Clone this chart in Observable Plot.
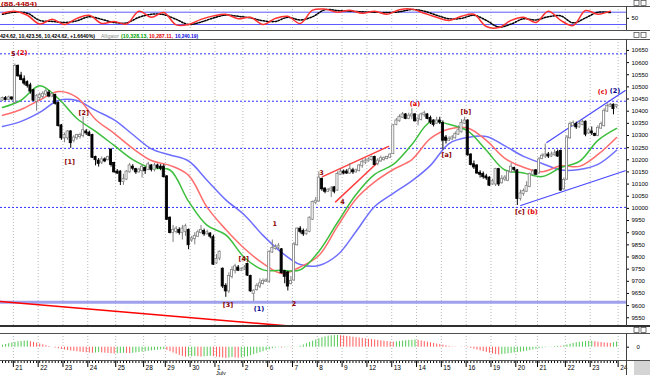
<!DOCTYPE html>
<html><head><meta charset="utf-8">
<script src="https://cdn.jsdelivr.net/npm/d3@7"></script>
<script src="https://cdn.jsdelivr.net/npm/@observablehq/plot@0.6"></script>
<style>
html,body{margin:0;padding:0;background:#fff;}
#c{position:relative;width:650px;height:375px;overflow:hidden;background:#fff;}
#c svg{position:absolute;left:0;}
</style></head><body><div id="c"></div>
<script>
// ---------- hourly candles (DJIA, 18 Jun - 23 Jul 2010) ----------
const opens = [
10445,10452,10448,10455,10435,10585,10545,10530,10518,10505,
10485,10440,10455,10460,10470,10475,10462,10465,10432,10340,
10290,10290,10315,10280,10290,10295,10300,10315,10310,10300,
10210,10195,10190,10200,10200,10240,10185,10150,10150,10110,
10120,10150,10170,10160,10150,10155,10165,10160,10175,10160,
10175,10170,10170,10130,9960,9900,9905,9910,9900,9905,
9910,9870,9875,9885,9900,9905,9895,9895,9880,9775,
9795,9750,9680,9660,9720,9745,9755,9745,9750,9770,
9720,9650,9665,9680,9690,9700,9700,9820,9835,9840,
9830,9740,9735,9690,9705,9850,9915,9905,9895,9905,
9955,10025,10030,10120,10080,10070,10075,10085,10075,10140,
10150,10150,10145,10155,10150,10155,10175,10190,10195,10200,
10210,10185,10195,10200,10205,10210,10225,10345,10360,10375,
10385,10370,10380,10385,10360,10365,10385,10385,10370,10360,
10350,10360,10350,10290,10280,10285,10290,10305,10315,10350,
10360,10220,10180,10175,10145,10140,10130,10125,10100,10100,
10160,10105,10120,10115,10150,10165,10155,10040,10060,10070,
10090,10140,10155,10145,10205,10215,10220,10215,10220,10230,
10235,10080,10120,10290,10340,10345,10335,10345,10355,10310,
10315,10305,10300,10330,10340,10400,10420,10425,10420];
const highs = [
10458,10460,10462,10458,10594,10590,10560,10545,10525,10515,
10490,10468,10475,10480,10490,10485,10475,10470,10438,10345,
10310,10320,10320,10300,10305,10310,10378,10325,10318,10305,
10215,10205,10212,10208,10215,10245,10190,10160,10155,10140,
10155,10185,10180,10165,10165,10180,10170,10190,10180,10185,
10182,10180,10180,10135,9965,9930,9925,9920,9930,9935,
9915,9885,9900,9910,9930,9915,9910,9900,9890,9810,
9825,9755,9690,9735,9760,9770,9765,9755,9765,9775,
9725,9665,9690,9710,9710,9710,9825,9870,9850,9855,
9835,9745,9740,9720,9860,9920,9925,9915,9915,9965,
10030,10045,10150,10125,10085,10082,10090,10090,10150,10160,
10158,10160,10185,10165,10162,10180,10200,10205,10208,10215,
10215,10205,10215,10212,10215,10225,10345,10370,10385,10395,
10390,10392,10410,10390,10385,10392,10400,10390,10380,10365,
10375,10375,10360,10300,10295,10300,10315,10340,10365,10375,
10365,10225,10195,10180,10155,10150,10140,10130,10120,10165,
10165,10135,10135,10155,10185,10170,10160,10075,10080,10110,
10145,10160,10160,10210,10225,10265,10230,10232,10240,10240,
10240,10125,10300,10355,10360,10355,10360,10365,10360,10330,
10335,10310,10340,10355,10410,10430,10432,10430,10426];
const lows = [
10440,10442,10444,10443,10430,10540,10525,10505,10495,10470,
10440,10400,10440,10450,10460,10455,10455,10425,10335,10280,
10270,10280,10247,10270,10280,10285,10290,10300,10295,10205,
10175,10170,10180,10188,10195,10170,10145,10140,10094,10095,
10115,10145,10155,10140,10145,10125,10140,10155,10150,10150,
10160,10155,10125,9950,9895,9860,9895,9890,9870,9885,
9830,9860,9850,9880,9895,9885,9890,9875,9765,9770,
9785,9670,9634,9650,9710,9730,9740,9740,9745,9720,
9655,9617,9660,9670,9685,9695,9692,9815,9828,9830,
9730,9690,9660,9685,9700,9845,9895,9885,9890,9900,
9950,10015,10025,10070,10060,10065,10045,10060,10070,10135,
10138,10140,10140,10140,10145,10150,10165,10180,10190,10195,
10175,10175,10190,10195,10200,10205,10222,10340,10355,10370,
10365,10365,10365,10355,10340,10360,10375,10365,10345,10335,
10345,10345,10240,10265,10275,10280,10285,10300,10310,10345,
10215,10175,10160,10140,10125,10120,10115,10090,10095,10090,
10090,10100,10110,10110,10145,10150,10012,10030,10050,10065,
10085,10135,10135,10140,10200,10205,10205,10210,10215,10210,
10070,10075,10115,10285,10335,10325,10330,10340,10295,10305,
10300,10295,10295,10325,10335,10395,10415,10385,10410];
const closes = [
10452,10448,10455,10450,10585,10545,10530,10515,10505,10482,
10445,10460,10465,10470,10480,10462,10468,10432,10340,10290,
10300,10315,10270,10290,10300,10300,10320,10310,10300,10210,
10200,10185,10200,10195,10210,10180,10150,10145,10110,10120,
10150,10175,10165,10150,10158,10170,10155,10180,10160,10175,
10168,10165,10130,9955,9900,9910,9915,9900,9915,9925,
9850,9875,9885,9900,9910,9895,9900,9885,9770,9790,
9820,9680,9660,9720,9745,9760,9745,9750,9755,9725,
9660,9660,9680,9690,9700,9702,9820,9835,9840,9845,
9735,9720,9680,9700,9850,9915,9905,9895,9905,9960,
10025,10030,10125,10080,10070,10075,10080,10070,10140,10150,
10145,10145,10160,10150,10155,10175,10190,10195,10200,10210,
10180,10195,10205,10205,10210,10220,10340,10360,10375,10385,
10370,10380,10385,10360,10365,10385,10390,10370,10355,10345,
10360,10355,10280,10280,10285,10290,10305,10320,10350,10360,
10220,10180,10170,10145,10140,10130,10125,10095,10110,10160,
10100,10120,10125,10150,10170,10160,10040,10060,10070,10090,
10140,10150,10140,10200,10215,10220,10215,10220,10225,10215,
10075,10115,10290,10345,10350,10335,10345,10355,10305,10320,
10310,10300,10330,10345,10400,10420,10425,10410,10424.62];

// ---------- Alligator (read every 6 bars) ----------
const lineIdx = [0,6,12,18,24,30,36,42,48,54,60,66,72,78,84,90,96,102,108,114,120,126,132,138,144,150,156,162,168,174,180,186,192,198];
const jaw   = [10337,10358,10395,10444,10444,10403,10364,10304,10245,10220,10195,10115,10035,9973,9889,9819,9769,9765,9808,9905,10008,10062,10113,10177,10267,10292,10296,10257,10214,10185,10158,10160,10181,10239];
const teeth = [10383,10407,10446,10481,10457,10366,10309,10247,10197,10177,10136,10004,9913,9835,9774,9732,9759,9806,9926,10039,10109,10160,10201,10288,10327,10331,10280,10206,10169,10151,10175,10173,10222,10292];
const lips  = [10415,10445,10505,10452,10370,10317,10259,10201,10166,10158,10029,9930,9891,9798,9747,9745,9747,9823,9942,10057,10140,10181,10263,10356,10346,10319,10239,10158,10146,10131,10168,10193,10280,10329];

// ---------- levels and trend lines ----------
const fibLevels = [10636, 10441, 10247, 10004];
const supportLevel = 9614;
const chanUpIdx = [175.5, 200.8], chanUpVal = [10271, 10485];
const chanLoIdx = [167.1, 200.8], chanLoVal = [10012, 10155];
const wedgeUpIdx = [103.2, 124.5], wedgeUpVal = [10131, 10255];
const wedgeLoIdx = [107.4, 121.3], wedgeLoVal = [10027, 10193];
const longDownIdx = [-0.65, 120], longDownVal = [9617, 9486];

// ---------- wave labels ----------
const waveText = ["5","(2)","[1]","[2]","[3]","[4]","(1)","1","2","3","4","(a)","[a]","[b]","[c]","(b)","(c)","(2)"];
const waveIdx  = [3.5,6.4,21.7,26.2,72.7,77.8,82.7,87.8,94,102.9,109.6,133,143.2,149.4,166.8,170.9,193.5,197.5];
const waveVal  = [10634,10638,10192,10392,9602,9794,9585,9935,9609,10144,10027,10432,10219,10395,9987,9987,10480,10483];
const waveKind = ["m","c","m","m","m","m","p","m","m","m","m","c","m","m","m","c","c","p"];

// ---------- oscillator (every 4 bars) ----------
const oscIdx = [0,4,8,12,16,20,24,28,32,36,40,44,48,52,56,60,64,68,72,76,80,84,88,92,96,100,104,108,112,116,120,124,128,132,136,140,144,148,152,156,160,164,168,172,176,180,184,188,192,196];
const oscK   = [75,85,65,22,45,20,50,65,25,35,22,85,55,78,18,20,45,62,70,48,55,20,50,60,25,90,95,80,90,75,85,70,92,95,75,55,40,60,70,10,5,40,55,30,85,40,15,88,70,85];
const oscD   = [70,80,75,40,35,30,38,58,45,30,28,55,70,68,45,20,32,52,66,60,52,38,35,55,42,58,92,88,85,82,80,78,82,93,85,65,48,50,65,40,8,22,48,42,58,62,28,52,80,78];
const oscLevels = [20, 80];

// ---------- Awesome oscillator (per bar) ----------
const aoVals = [
20,28,35,42,48,54,58,60,62,
55,48,40,32,24,16,8,0,-8,-15,-22,
-28,-33,-38,-42,-46,-50,-53,-56,-58,-60,-58,-55,-57,-60,-63,-66,-68,-65,-62,-60,-62,-64,-61,-57,
-53,-49,-45,-41,-37,-33,-29,-26,-23,
-32,-45,-58,-70,-82,-92,-100,
-97,-94,-92,-95,-99,-96,-93,-90,-94,-99,-104,-108,
-112,-108,-104,-108,-111,-106,-100,-95,
-85,-75,-65,-55,-45,-35,-25,-15,
-8,-5,-8,-6,-3,-5,-2,2,
10,22,35,48,60,72,84,95,103,110,
114,116,118,115,112,
108,104,100,96,92,88,84,80,76,72,68,64,60,56,52,50,
53,57,61,65,68,70,72,
68,62,56,50,44,38,32,26,20,14,
8,4,2,0,-2,-3,-5,
-12,-20,-28,-36,-44,-52,-60,-67,-73,-78,
-74,-70,-66,-62,-58,-54,-50,-45,-40,-35,-28,-20,
-14,-8,-5,-2,2,6,
10,8,15,22,30,38,
45,50,52,56,58,60,
55,50,46,42,40,38,
45,52];

// ---------- axes ----------
const yTicks = [10650,10600,10550,10500,10450,10400,10350,10300,10250,10200,10150,10100,10050,10000,9950,9900,9850,9800,9750,9700,9650,9600,9550];
const dayLabels = ["21","22","23","24","25","28","29","30","1","2","6","7","8","9","12","13","14","15","16","19","20","21","22","23","24"];
const dayStart  = [4,12,20,28,37,46,53,61,69,78,86,94,102,110,118,126,134,142,150,158,166,173,182,190,199];
const monthLabel = "July", monthStart = 69;

// ---------- drawing ----------
const C = document.getElementById("c");
const XD = [-0.645, 201.2];
const FONT = "'Liberation Sans', Arial, sans-serif";
const base = {width:650, marginLeft:0, marginRight:24, marginTop:0, marginBottom:0,
  x:{domain:XD, axis:null}, color:{type:"identity"},
  style:{background:"transparent", fontFamily:FONT, fontSize:"6px", color:"#000", overflow:"visible"}};
function add(opts, top){
  const svg = Plot.plot({...base, ...opts});
  svg.style.position = "absolute"; svg.style.left = "0px"; svg.style.top = top + "px";
  C.appendChild(svg);
}
const pts = (idx, vals) => idx.map((i,k) => ({i, v: vals[k]}));
const grid = () => Plot.ruleX(dayStart, {x: d => d - 0.5, stroke:"#b8b8b8", strokeDasharray:"1,2"});

const bars = closes.map((c,i) => ({i, o:opens[i], h:highs[i], l:lows[i], c, up: c >= opens[i]}));
const waveColors = {m:"#8b0000", c:"#e00000", p:"#00008b"};
const waves = waveText.map((t,k) => ({t, i:waveIdx[k], v:waveVal[k], k:waveKind[k]}));

// oscillator panel
add({height:24, y:{domain:[-9.3,107.8], axis:null}, marks:[
  grid(),
  Plot.ruleY(oscLevels, {stroke:"#5a5aff"}),
  Plot.line(pts(oscIdx, oscD), {x:"i", y:"v", stroke:"#000", strokeDasharray:"1.5,1.5", curve:"catmull-rom"}),
  Plot.line(pts(oscIdx, oscK), {x:"i", y:"v", stroke:"#ff3030", curve:"catmull-rom"}),
  Plot.axisY({anchor:"right", ticks:[50], tickSize:2, tickPadding:3, label:null, fontSize:6})
]}, 6);

// main price panel
add({height:287, y:{domain:[9514,10695], axis:null}, marks:[
  grid(),
  Plot.ruleY(fibLevels, {stroke:"#3030ff", strokeDasharray:"2,2"}),
  Plot.ruleY([supportLevel], {stroke:"#a0a0ee", strokeWidth:3}),
  Plot.line(pts(longDownIdx, longDownVal), {x:"i", y:"v", stroke:"#ff0000", strokeWidth:1.6, clip:true}),
  Plot.line(pts(lineIdx, jaw),   {x:"i", y:"v", stroke:"#6e6eff", curve:"catmull-rom"}),
  Plot.line(pts(lineIdx, teeth), {x:"i", y:"v", stroke:"#ff6e6e", curve:"catmull-rom"}),
  Plot.line(pts(lineIdx, lips),  {x:"i", y:"v", stroke:"#3cbf3c", curve:"catmull-rom"}),
  Plot.line(pts(wedgeUpIdx, wedgeUpVal), {x:"i", y:"v", stroke:"#ff4040"}),
  Plot.line(pts(wedgeLoIdx, wedgeLoVal), {x:"i", y:"v", stroke:"#ff4040"}),
  Plot.line(pts(chanUpIdx, chanUpVal), {x:"i", y:"v", stroke:"#4848ff", strokeWidth:1.2}),
  Plot.line(pts(chanLoIdx, chanLoVal), {x:"i", y:"v", stroke:"#4848ff", strokeWidth:1.2}),
  Plot.ruleX(bars, {x:"i", y1:"l", y2:"h", stroke: d => d.up ? "#808080" : "#000"}),
  Plot.rect(bars, {x1: d => d.i - 0.34, x2: d => d.i + 0.34, y1:"o", y2:"c",
    fill: d => d.up ? "#fff" : "#000", stroke: d => d.up ? "#808080" : "#000", strokeWidth:0.8,
    insetTop:-0.4, insetBottom:-0.4}),
  Plot.text(waves, {x:"i", y:"v", text:"t", fill: d => waveColors[d.k], fontWeight:"bold", fontSize:6.5, fontFamily:"'DejaVu Sans', sans-serif"}),
  Plot.axisY({anchor:"right", ticks:yTicks, tickSize:2, tickPadding:3, tickFormat: d => String(d), label:null, fontSize:6})
]}, 39);

// awesome oscillator panel
const ao = aoVals.map((v,i) => ({i, v, up: i === 0 || v >= aoVals[i-1]}));
add({height:27, y:{domain:[-133,137], axis:null}, marks:[
  grid(),
  Plot.ruleX(ao, {x:"i", y1:0, y2:"v", stroke: d => d.up ? "#52c852" : "#ff5a5a", strokeWidth:1}),
  Plot.axisY({anchor:"right", ticks:[0], tickSize:2, tickPadding:8, label:null, fontSize:6})
]}, 333);

// date axis
add({height:15, marks:[
  Plot.tickX(bars, {x:"i", stroke:"#000", insetBottom:12}),
  Plot.tickX(dayStart, {x: d => d - 0.5, stroke:"#000", insetBottom:8}),
  Plot.text(dayStart, {x: d => d - 0.5, text: (d,i) => dayLabels[i], frameAnchor:"top", dy:4.5, dx:2, textAnchor:"start", fontSize:6.5}),
  Plot.text([monthStart], {x: d => d - 0.5, text: () => monthLabel, frameAnchor:"top", dy:10.5, dx:1, textAnchor:"start", fontSize:5.5})
]}, 360);

// panel chrome and header texts
const ov = d3.select(C).append("svg").attr("width",650).attr("height",375).style("top","0px").style("pointer-events","none")
  .style("font-family", "'Liberation Sans Narrow', 'Liberation Sans', sans-serif");
const hl = (y, w=1, col="#505050") => ov.append("line").attr("x1",0).attr("x2",650).attr("y1",y).attr("y2",y).attr("stroke",col).attr("stroke-width",w);
hl(6.5); hl(30.5); hl(39.5); hl(326, 2, "#303030"); hl(333.5); hl(360.5);
[[6,30],[39,326],[333,375]].forEach(([a,b]) => ov.append("line").attr("x1",626.5).attr("x2",626.5).attr("y1",a).attr("y2",b).attr("stroke","#404040"));
ov.append("rect").attr("x",634).attr("y",361).attr("width",16).attr("height",14).attr("fill","#d4d4d4");
function icons(y){
  [634,641].forEach(x => ov.append("rect").attr("x",x).attr("y",y).attr("width",5).attr("height",5).attr("fill","#fff").attr("stroke","#404040").attr("stroke-width",0.7));
}
icons(0.5); icons(32.5); icons(327.5);
function txt(x, y, s, fill, len, weight="bold", size=6){
  const t = ov.append("text").attr("x",x).attr("y",y).attr("fill",fill).attr("font-size",size).attr("font-weight",weight).text(s);
  if (len) t.attr("textLength",len).attr("lengthAdjust","spacingAndGlyphs");
  return t;
}
txt(1, 5.5, "(88.4484)", "#b00000", 36);
txt(0, 37.5, "424.62, 10,423.56, 10,424.62, +1.6640%)", "#000", 95, "bold", 5.5);
txt(101, 37.5, "Alligator", "#8a8a8a", 18, "normal", 5.5);
txt(121, 37.5, "(10,328.13,", "#00a000", 27, "bold", 5.5);
txt(149, 37.5, "10,287.11,", "#e00000", 24, "bold", 5.5);
txt(175, 37.5, "10,240.19)", "#0000e0", 23, "bold", 5.5);
</script></body></html>
